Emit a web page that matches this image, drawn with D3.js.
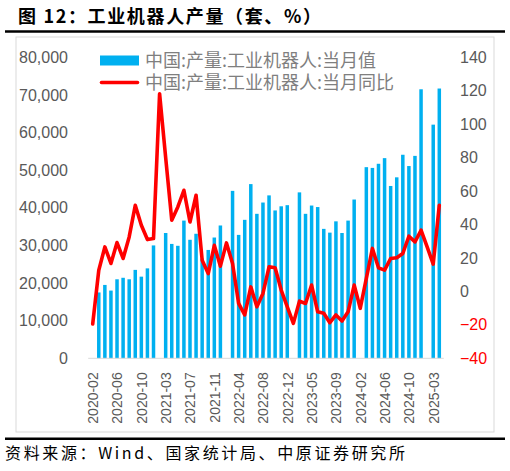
<!DOCTYPE html>
<html><head><meta charset="utf-8">
<script src="https://cdn.jsdelivr.net/npm/d3@7/dist/d3.min.js"></script>
<style>
body{margin:0;background:#fff;}
svg{display:block;}
</style>
</head><body>
<svg id="chart" width="510" height="471"></svg>
<script>
// ---- DATA ----
const categories = [
  "2020-02","2020-03","2020-04","2020-05","2020-06","2020-07","2020-08","2020-09","2020-10","2020-11","2020-12",
  "2021-02","2021-03","2021-04","2021-05","2021-06","2021-07","2021-08","2021-09","2021-10","2021-11","2021-12",
  "2022-02","2022-03","2022-04","2022-05","2022-06","2022-07","2022-08","2022-09","2022-10","2022-11","2022-12",
  "2023-02","2023-03","2023-04","2023-05","2023-06","2023-07","2023-08","2023-09","2023-10","2023-11","2023-12",
  "2024-02","2024-03","2024-04","2024-05","2024-06","2024-07","2024-08","2024-09","2024-10","2024-11","2024-12",
  "2025-02","2025-03","2025-04"
];
// 当月值 (套); null = not reported (Jan-Feb combined)
const monthlyOutput = [
  null, 17500, 19500, 18000, 21000, 21400, 21000, 23500, 21700, 23900, 30000,
  null, 33300, 30400, 29900, 36600, 31500, 33100, 26500, 28800, 32100, 35300,
  null, 44500, 32800, 36800, 46300, 38400, 41400, 43300, 39300, 40400, 40700,
  null, 44100, 38400, 40600, 40200, 34400, 33400, 36400, 33300, 36600, 42200,
  null, 50800, 50600, 51700, 53200, 45800, 48100, 54100, 51100, 53800, 71500,
  null, 62100, 71700
];
// 当月同比 (%)
const monthlyYoY = [
  -19.5, 12.7, 26.6, 16.7, 29.2, 19.7, 32.6, 51.5, 39.6, 31.0, 31.6,
  118.2, 80.0, 42.6, 50.5, 60.5, 41.5, 57.5, 18.7, 10.7, 27.6, 15.1,
  29.0, 16.7, -7.2, -14.1, 2.7, -9.2, -1.2, 14.7, 14.1, 0.8, -9.2,
  -19.1, -5.8, -7.2, 3.8, -12.2, -13.1, -18.7, -14.1, -17.7, -12.2, 3.8,
  -10.1, 7.8, 25.7, 14.1, 12.7, 19.7, 20.1, 22.7, 33.0, 29.6, 36.6,
  26.6, 16.3, 51.5
];
const leftTicks = [0, 10000, 20000, 30000, 40000, 50000, 60000, 70000, 80000];
const rightTicks = [-40, -20, 0, 20, 40, 60, 80, 100, 120, 140];
const xTickLabels = ["2020-02","2020-06","2020-10","2021-03","2021-07","2021-11","2022-04","2022-08",
  "2022-12","2023-05","2023-09","2024-02","2024-06","2024-10","2025-03"];
const seriesNames = ["中国:产量:工业机器人:当月值", "中国:产量:工业机器人:当月同比"];
const titleText = "图 12：工业机器人产量（套、%）";
const sourceText = "资料来源：Wind、国家统计局、中原证券研究所";

// ---- CHART ----
const svg = d3.select("#chart");
const cjk = "'Noto Sans CJK SC', 'Noto Sans', sans-serif";
const num = "'Liberation Sans', Arial, sans-serif";
const barColor = "#00b0f0", lineColor = "#ff0000", axisText = "#595959";

const plotTop = 57.3, plotBottom = 358.3;
const x = d3.scalePoint().domain(categories).range([92.7, 439.3]);
const yL = d3.scaleLinear().domain([0, 80000]).range([plotBottom, plotTop]);
const yR = d3.scaleLinear().domain([-40, 140]).range([plotBottom, plotTop]);
const barW = 3.5;

// title
svg.append("text").attr("x", 18).attr("y", 22.5)
  .attr("font-family", cjk).attr("font-weight", "bold").attr("font-size", 18)
  .attr("fill", "#000")
  .attr("textLength", 303).attr("lengthAdjust", "spacing")
  .text(titleText);
svg.append("line").attr("x1", 5).attr("x2", 505).attr("y1", 31.5).attr("y2", 31.5)
  .attr("stroke", "#000").attr("stroke-width", 2.5);

// frame
svg.append("rect").attr("x", 16).attr("y", 37).attr("width", 478).attr("height", 395)
  .attr("fill", "none").attr("stroke", "#d9d9d9").attr("stroke-width", 1);

// bars
svg.append("g").selectAll("rect")
  .data(categories.map((c, i) => ({c, v: monthlyOutput[i]})).filter(d => d.v != null))
  .join("rect")
  .attr("x", d => x(d.c) - barW / 2)
  .attr("width", barW)
  .attr("y", d => yL(d.v))
  .attr("height", d => yL(0) - yL(d.v))
  .attr("fill", barColor);

// baseline
svg.append("line")
  .attr("x1", x(categories[0]) - 4.5).attr("x2", x(categories[categories.length - 1]) + 4.5)
  .attr("y1", yL(0)).attr("y2", yL(0))
  .attr("stroke", "#d9d9d9").attr("stroke-width", 1);

// line
const line = d3.line().x((d, i) => x(categories[i])).y(d => yR(d));
svg.append("path").datum(monthlyYoY)
  .attr("d", line).attr("fill", "none").attr("stroke", lineColor)
  .attr("stroke-width", 3.6).attr("stroke-linejoin", "round").attr("stroke-linecap", "round");

// left axis
const gL = svg.append("g").attr("transform", "translate(71,0)")
  .call(d3.axisLeft(yL).tickValues(leftTicks).tickSize(0).tickPadding(3).tickFormat(d3.format(",")));
gL.select(".domain").remove();
gL.selectAll("text").attr("font-family", num).attr("font-size", 16).attr("fill", axisText);

// right axis
const gR = svg.append("g").attr("transform", "translate(457,0)")
  .call(d3.axisRight(yR).tickValues(rightTicks).tickSize(0).tickPadding(3));
gR.select(".domain").remove();
gR.selectAll("text").attr("font-family", num).attr("font-size", 16)
  .attr("fill", d => d < 0 ? "#ff0000" : axisText);

// x axis
const gX = svg.append("g").attr("transform", `translate(0,${plotBottom})`)
  .call(d3.axisBottom(x).tickValues(xTickLabels).tickSize(0));
gX.select(".domain").remove();
gX.selectAll("text")
  .attr("font-family", num).attr("font-size", 14).attr("fill", axisText)
  .attr("text-anchor", "end").attr("x", 0).attr("y", 0).attr("dy", "0.35em")
  .attr("transform", "translate(0,14) rotate(-90)");

// legend
const lg = svg.append("g");
lg.append("rect").attr("x", 100).attr("y", 55.5).attr("width", 39).attr("height", 10).attr("fill", barColor);
lg.append("line").attr("x1", 101.5).attr("x2", 137.5).attr("y1", 82.5).attr("y2", 82.5)
  .attr("stroke", lineColor).attr("stroke-width", 3.6).attr("stroke-linecap", "round");
lg.selectAll("text").data(seriesNames).join("text")
  .attr("x", 145).attr("y", (d, i) => 60.7 + i * 21.5).attr("dy", "0.36em")
  .attr("font-family", cjk).attr("font-size", 18).attr("fill", "#7f7f7f").text(d => d);

// source
svg.append("line").attr("x1", 5).attr("x2", 505).attr("y1", 438.7).attr("y2", 438.7)
  .attr("stroke", "#000").attr("stroke-width", 2.5);
svg.append("text").attr("x", 5).attr("y", 458.5)
  .attr("font-family", cjk).attr("font-size", 16).attr("fill", "#000")
  .attr("textLength", 400).attr("lengthAdjust", "spacing")
  .text(sourceText);
</script>
</body></html>
